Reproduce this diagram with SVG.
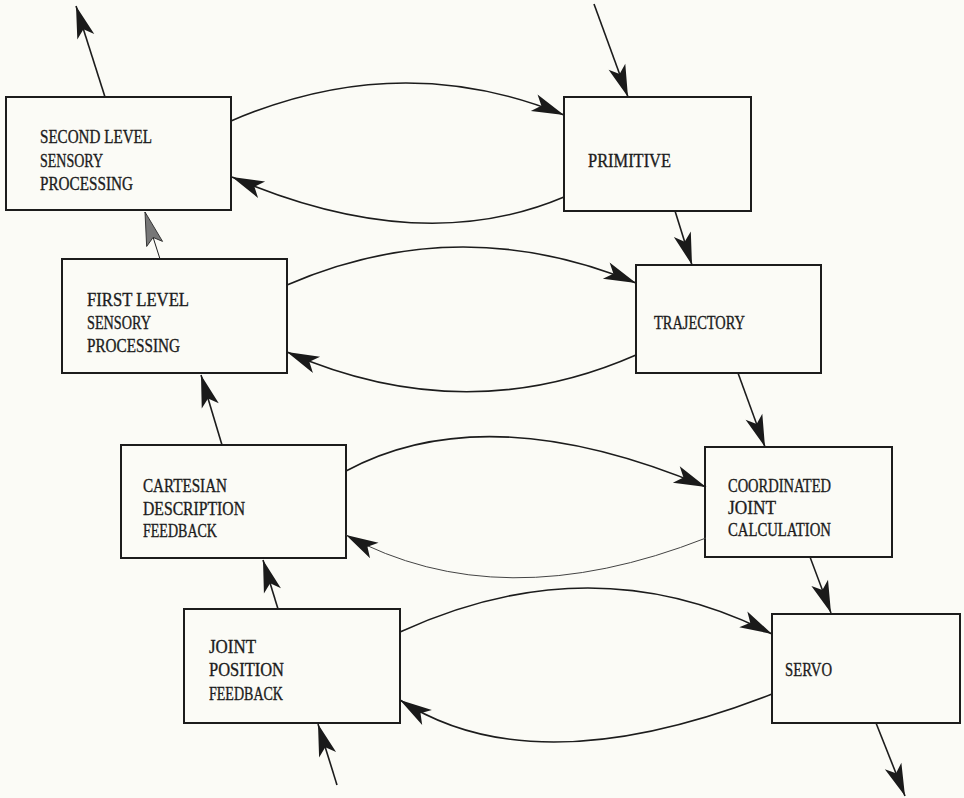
<svg xmlns="http://www.w3.org/2000/svg" width="964" height="798" viewBox="0 0 964 798">
  <defs>
    <marker id="head" markerUnits="userSpaceOnUse" markerWidth="40" markerHeight="24" viewBox="-32 -10 36 20" refX="0" refY="0" orient="auto">
      <path d="M0,0 L-29,-8 L-22,0 L-29,8 Z" fill="#1a1a1a"/>
    </marker>
    <marker id="headFaint" markerUnits="userSpaceOnUse" markerWidth="40" markerHeight="24" viewBox="-32 -10 36 20" refX="0" refY="0" orient="auto">
      <path d="M0,0 L-30,-8 L-24,0 L-30,7 Z" fill="#777" stroke="#333" stroke-width="0.8"/>
    </marker>
    <style>
      .box { fill: none; stroke: #1c1c1c; stroke-width: 2; }
      .lbl { font-family: "Liberation Serif", "Times New Roman", serif; font-size: 18.5px; fill: #1c1c1c; stroke: #1c1c1c; stroke-width: 0.35; }
      .wire { fill: none; stroke: #1c1c1c; stroke-width: 1.6; marker-end: url(#head); }
      .thin { stroke-width: 1; stroke: #444; }
    </style>
  </defs>

  <rect width="964" height="798" fill="#fbfbf6"/>

  <!-- processing blocks -->
  <g id="second-level">
    <rect class="box" x="6" y="97" width="225" height="113"/>
    <text class="lbl" x="40" y="143" textLength="112" lengthAdjust="spacingAndGlyphs">SECOND LEVEL</text>
    <text class="lbl" x="40" y="167" textLength="63" lengthAdjust="spacingAndGlyphs">SENSORY</text>
    <text class="lbl" x="40" y="190" textLength="93" lengthAdjust="spacingAndGlyphs">PROCESSING</text>
  </g>

  <g id="primitive">
    <rect class="box" x="564" y="97" width="187" height="114"/>
    <text class="lbl" x="588" y="167" textLength="83" lengthAdjust="spacingAndGlyphs">PRIMITIVE</text>
  </g>

  <g id="first-level">
    <rect class="box" x="62" y="259" width="225" height="114"/>
    <text class="lbl" x="87" y="306" textLength="102" lengthAdjust="spacingAndGlyphs">FIRST LEVEL</text>
    <text class="lbl" x="87" y="329" textLength="64" lengthAdjust="spacingAndGlyphs">SENSORY</text>
    <text class="lbl" x="87" y="352" textLength="93" lengthAdjust="spacingAndGlyphs">PROCESSING</text>
  </g>

  <g id="trajectory">
    <rect class="box" x="636" y="265" width="185" height="108"/>
    <text class="lbl" x="654" y="329" textLength="91" lengthAdjust="spacingAndGlyphs">TRAJECTORY</text>
  </g>

  <g id="cartesian">
    <rect class="box" x="121" y="445" width="225" height="113"/>
    <text class="lbl" x="143" y="492" textLength="84" lengthAdjust="spacingAndGlyphs">CARTESIAN</text>
    <text class="lbl" x="143" y="515" textLength="102" lengthAdjust="spacingAndGlyphs">DESCRIPTION</text>
    <text class="lbl" x="143" y="537" textLength="74" lengthAdjust="spacingAndGlyphs">FEEDBACK</text>
  </g>

  <g id="coordinated">
    <rect class="box" x="705" y="447" width="187" height="110"/>
    <text class="lbl" x="728" y="492" textLength="103" lengthAdjust="spacingAndGlyphs">COORDINATED</text>
    <text class="lbl" x="728" y="514" textLength="48" lengthAdjust="spacingAndGlyphs">JOINT</text>
    <text class="lbl" x="728" y="536" textLength="103" lengthAdjust="spacingAndGlyphs">CALCULATION</text>
  </g>

  <g id="joint-position">
    <rect class="box" x="184" y="609" width="216" height="114"/>
    <text class="lbl" x="209" y="653" textLength="47" lengthAdjust="spacingAndGlyphs">JOINT</text>
    <text class="lbl" x="209" y="676" textLength="75" lengthAdjust="spacingAndGlyphs">POSITION</text>
    <text class="lbl" x="209" y="700" textLength="74" lengthAdjust="spacingAndGlyphs">FEEDBACK</text>
  </g>

  <g id="servo">
    <rect class="box" x="772" y="614" width="188" height="109"/>
    <text class="lbl" x="785" y="676" textLength="47" lengthAdjust="spacingAndGlyphs">SERVO</text>
  </g>

  <!-- connectors -->
  <g id="connectors">
    <!-- vertical flow, left column (upward) -->
    <path class="wire" d="M105,97 L76,6"/>
    <path class="wire" d="M160,259 L145,212" style="marker-end:url(#headFaint);stroke-width:1"/>
    <path class="wire" d="M222,445 L201,375"/>
    <path class="wire" d="M278,609 L263,560"/>
    <path class="wire" d="M337,785 L318,724"/>

    <!-- vertical flow, right column (downward) -->
    <path class="wire" d="M594,4 L628,97"/>
    <path class="wire" d="M675,211 L692,265"/>
    <path class="wire" d="M738,373 L765,447"/>
    <path class="wire" d="M810,557 L831,613"/>
    <path class="wire" d="M876,723 L905,796"/>

    <!-- horizontal exchanges -->
    <path class="wire" d="M231,121 Q400,48 564,115"/>
    <path class="wire" d="M564,197 Q420,258 232,177"/>
    <path class="wire" d="M287,285 Q460,210 636,283"/>
    <path class="wire" d="M636,355 Q465,430 287,352"/>
    <path class="wire" d="M346,471 Q487,395 706,487"/>
    <path class="wire thin" d="M706,538 Q500,619 346,535"/>
    <path class="wire" d="M400,632 Q594,543 772,634"/>
    <path class="wire" d="M772,694 Q534,787 400,700"/>
  </g>
</svg>
